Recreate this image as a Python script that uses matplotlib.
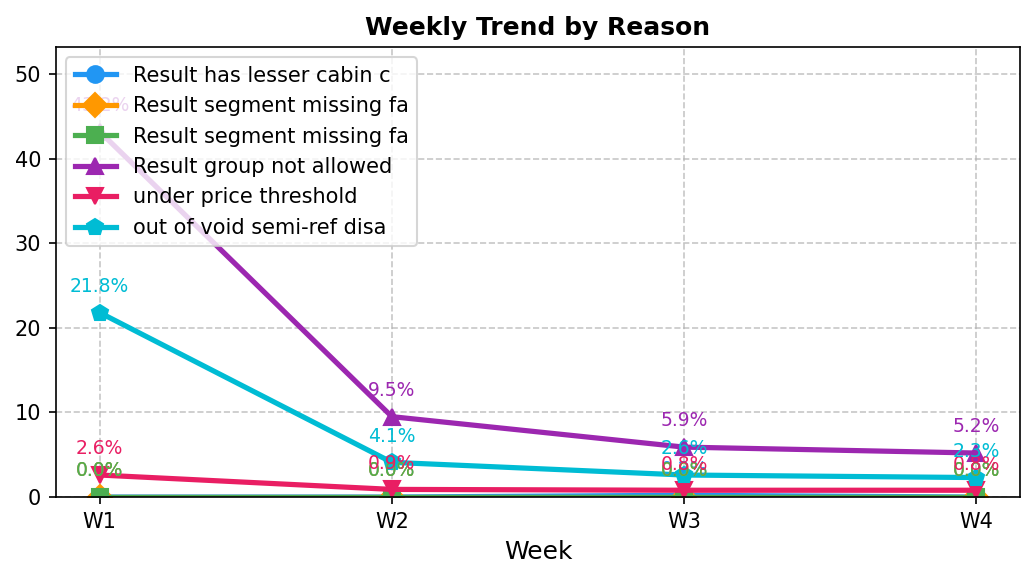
import matplotlib
matplotlib.use("Agg")
import matplotlib.pyplot as plt
import numpy as np

weeks = ["W1", "W2", "W3", "W4"]
series_names = [
    "Result has lesser cabin c",
    "Result segment missing fa",
    "Result segment missing fa",
    "Result group not allowed",
    "under price threshold",
    "out of void semi-ref disa",
]
s_lesser_cabin = [0.0, 0.0, 0.2, 0.0]
s_segment_missing_a = [0.0, 0.0, 0.0, 0.0]
s_segment_missing_b = [0.0, 0.0, 0.0, 0.0]
s_group_not_allowed = [43.2, 9.5, 5.9, 5.2]
s_under_price = [2.6, 0.9, 0.8, 0.8]
s_out_of_void = [21.8, 4.1, 2.6, 2.3]

series_values = [s_lesser_cabin, s_segment_missing_a, s_segment_missing_b,
                 s_group_not_allowed, s_under_price, s_out_of_void]
colors = ["#2196F3", "#FF9800", "#4CAF50", "#9C27B0", "#E91E63", "#00BCD4"]
markers = ["o", "D", "s", "^", "v", "p"]

fig = plt.figure(figsize=(6.9, 3.86), dpi=150)
ax = fig.add_axes([0.054, 0.1416, 0.9315, 0.7772])

x = np.arange(len(weeks))
for name, vals, c, m in zip(series_names, series_values, colors, markers):
    ax.plot(x, vals, color=c, marker=m, linewidth=2.5, markersize=8, label=name)
    for xi, v in zip(x, vals):
        ax.annotate(f"{v:.1f}%", (xi, v), xytext=(0, 8), textcoords="offset points",
                    ha="center", va="bottom", fontsize=9, color=c)

ax.set_xticks(x)
ax.set_xticklabels(weeks)
ymax = max(max(v) for v in series_values)
ax.set_ylim(0, ymax + 10)
ax.set_xlabel("Week", fontsize=12)
ax.set_title("Weekly Trend by Reason", fontsize=12, fontweight="bold")
ax.grid(True, linestyle="--", alpha=0.7)
ax.legend(loc="upper left", fontsize=10)

fig.savefig("out.png", dpi=150)
